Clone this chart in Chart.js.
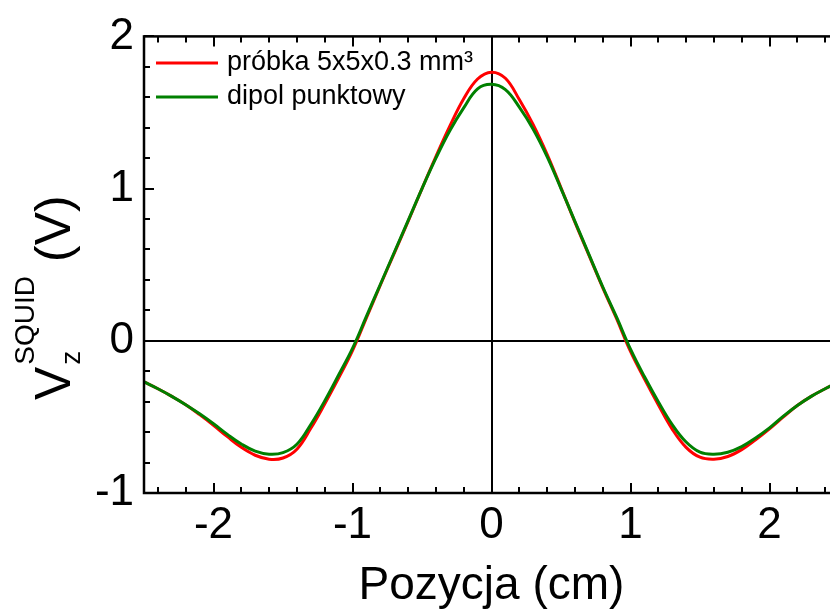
<!DOCTYPE html>
<html>
<head>
<meta charset="utf-8">
<script src="https://cdn.jsdelivr.net/npm/chart.js@4.4.1/dist/chart.umd.min.js"></script>
<style>
  html, body { margin: 0; padding: 0; background: #fff; overflow: hidden; }
  #wrap { width: 842px; height: 612px; }
</style>
</head>
<body>
<div id="wrap"><canvas id="myChart" width="842" height="612"></canvas></div>
<script>
    // pozycja probki (cm)
    const pozycja = [-2.5, -2.4, -2.3, -2.2, -2.1, -2.0, -1.9, -1.8, -1.7, -1.6, -1.5, -1.4, -1.3, -1.2, -1.1,
        -1.0, -0.9, -0.8, -0.7, -0.6, -0.5, -0.4, -0.3, -0.2, -0.1, 0.0, 0.1, 0.2, 0.3, 0.4, 0.5,
        0.6, 0.7, 0.8, 0.9, 1.0, 1.1, 1.2, 1.3, 1.4, 1.5, 1.6, 1.7, 1.8, 1.9, 2.0, 2.1, 2.2, 2.3, 2.4, 2.5];
    // sygnal SQUID (V)
    const probka = [-0.27, -0.315, -0.365, -0.42, -0.485, -0.555, -0.63, -0.7, -0.752, -0.778, -0.77, -0.712, -0.575, -0.415, -0.245,
        -0.065, 0.15, 0.365, 0.575, 0.785, 1.0, 1.21, 1.41, 1.59, 1.72, 1.765, 1.725, 1.585, 1.42, 1.225, 1.005,
        0.78, 0.565, 0.35, 0.145, -0.07, -0.25, -0.42, -0.58, -0.7, -0.765, -0.778, -0.76, -0.715, -0.65, -0.578, -0.5, -0.425, -0.365, -0.315, -0.27];
    const dipol = [-0.27, -0.315, -0.365, -0.42, -0.48, -0.545, -0.615, -0.678, -0.725, -0.745, -0.735, -0.68, -0.55, -0.395, -0.225,
        -0.05, 0.16, 0.37, 0.58, 0.79, 1.0, 1.2, 1.38, 1.53, 1.655, 1.685, 1.65, 1.535, 1.39, 1.21, 1.0,
        0.785, 0.57, 0.355, 0.155, -0.055, -0.235, -0.4, -0.55, -0.665, -0.732, -0.745, -0.732, -0.695, -0.638, -0.572, -0.495, -0.425, -0.365, -0.315, -0.27];

    const xTicks = [-2, -1, 0, 1, 2];
    const yTicks = [-1, 0, 1, 2];
    const nazwy = ['próbka 5x5x0.3 mm³', 'dipol punktowy'];
    const kolory = ['#ff0000', '#008000'];

    const FONT = "'Liberation Sans', Arial, sans-serif";

    function punkty(ys) {
        return pozycja.map(function (x, i) { return {x: x, y: ys[i]}; });
    }

    // ramka z kreskami do wewnatrz, linie zera, legenda i opis osi Y
    const ramka = {
        id: 'ramka',
        beforeDatasetsDraw: function (chart) {
            const c = chart.ctx, a = chart.chartArea;
            const sx = chart.scales.x, sy = chart.scales.y;
            c.save();
            c.strokeStyle = '#000';
            c.lineWidth = 2;
            c.beginPath();
            const x0 = Math.round(sx.getPixelForValue(0));
            const y0 = Math.round(sy.getPixelForValue(0));
            c.moveTo(x0, a.top);
            c.lineTo(x0, a.bottom);
            c.moveTo(a.left, y0);
            c.lineTo(a.right, y0);
            c.stroke();
            c.restore();
        },
        afterDraw: function (chart) {
            const c = chart.ctx, a = chart.chartArea;
            const sx = chart.scales.x, sy = chart.scales.y;
            c.save();
            c.strokeStyle = '#000';
            c.lineWidth = 2.5;
            c.strokeRect(a.left, a.top, a.right - a.left, a.bottom - a.top);

            c.lineWidth = 2;
            c.beginPath();
            for (let k = -24; k <= 24; k += 2) {
                const v = k / 10;
                const px = Math.round(sx.getPixelForValue(v));
                const len = (k % 10 === 0) ? 10 : 6;
                c.moveTo(px, a.bottom);
                c.lineTo(px, a.bottom - len);
                c.moveTo(px, a.top);
                c.lineTo(px, a.top + len);
            }
            for (let k = -10; k <= 20; k += 2) {
                const v = k / 10;
                const py = Math.round(sy.getPixelForValue(v));
                const len = (k % 10 === 0) ? 10 : 6;
                c.moveTo(a.left, py);
                c.lineTo(a.left + len, py);
            }
            c.stroke();

            // legenda
            c.font = '27px ' + FONT;
            c.textBaseline = 'middle';
            c.textAlign = 'left';
            for (let i = 0; i < nazwy.length; i++) {
                const y = 63 + i * 34;
                c.strokeStyle = kolory[i];
                c.lineWidth = 3;
                c.beginPath();
                c.moveTo(156, y);
                c.lineTo(218, y);
                c.stroke();
                c.fillStyle = '#000';
                c.fillText(nazwy[i], 227, y);
            }

            // V_z^SQUID (V)
            c.translate(70, 400);
            c.rotate(-Math.PI / 2);
            c.textBaseline = 'alphabetic';
            c.fillStyle = '#000';
            c.font = '50px ' + FONT;
            c.fillText('V', 0, 0);
            const wV = c.measureText('V').width;
            c.font = '28px ' + FONT;
            c.fillText('z', wV + 2, 10);
            c.fillText('SQUID', wV + 2, -36);
            const wS = c.measureText('SQUID').width;
            c.font = '50px ' + FONT;
            c.fillText('(V)', wV + wS + 16, 0);
            c.restore();
        }
    };

    const ctx = document.getElementById('myChart');
    const chart = new Chart(ctx, {
        type: 'line',
        data: {
            datasets: [{
                label: nazwy[0],
                data: punkty(probka),
                borderColor: kolory[0],
                borderWidth: 3,
                pointRadius: 0,
                tension: 0.4,
                order: 1
            }, {
                label: nazwy[1],
                data: punkty(dipol),
                borderColor: kolory[1],
                borderWidth: 3,
                pointRadius: 0,
                tension: 0.4,
                order: 0
            }]
        },
        options: {
            responsive: false,
            animation: false,
            devicePixelRatio: 1,
            layout: {padding: {left: 0, top: 33, right: 3, bottom: 0}},
            plugins: {
                legend: {display: false},
                tooltip: {enabled: false}
            },
            scales: {
                x: {
                    type: 'linear',
                    min: -2.5,
                    max: 2.5,
                    grid: {display: false, drawTicks: false},
                    border: {display: false},
                    afterBuildTicks: function (s) { s.ticks = xTicks.map(function (v) { return {value: v}; }); },
                    afterFit: function (s) { s.height = 119; },
                    ticks: {
                        color: '#000',
                        padding: 6,
                        maxRotation: 0,
                        font: {family: FONT, size: 44}
                    },
                    title: {
                        display: true,
                        text: 'Pozycja (cm)',
                        color: '#000',
                        padding: {top: 0, bottom: -2},
                        font: {family: FONT, size: 46}
                    }
                },
                y: {
                    min: -1,
                    max: 2,
                    grid: {display: false, drawTicks: false},
                    border: {display: false},
                    afterBuildTicks: function (s) { s.ticks = yTicks.map(function (v) { return {value: v}; }); },
                    afterFit: function (s) { s.width = 144; },
                    ticks: {
                        color: '#000',
                        padding: 10,
                        font: {family: FONT, size: 44}
                    }
                }
            }
        },
        plugins: [ramka]
    });
</script>
</body>
</html>
